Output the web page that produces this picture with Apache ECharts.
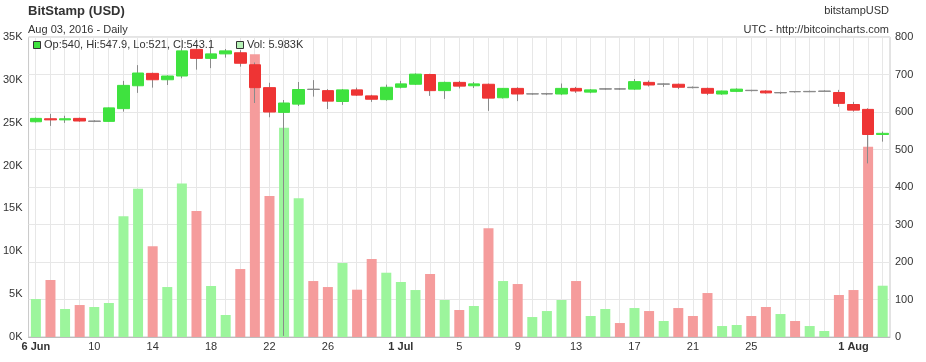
<!DOCTYPE html>
<html>
<head>
<meta charset="utf-8">
<script src="https://cdn.jsdelivr.net/npm/echarts@6/dist/echarts.min.js"></script>
<style>
html,body{margin:0;padding:0;background:#fff;}
#chart{width:926px;height:362px;}
</style>
</head>
<body>
<div id="chart"></div>
<script>
// ---- data ----
const dates = [
'2016-06-06','2016-06-07','2016-06-08','2016-06-09','2016-06-10','2016-06-11','2016-06-12','2016-06-13','2016-06-14','2016-06-15',
'2016-06-16','2016-06-17','2016-06-18','2016-06-19','2016-06-20','2016-06-21','2016-06-22','2016-06-23','2016-06-24','2016-06-25',
'2016-06-26','2016-06-27','2016-06-28','2016-06-29','2016-06-30','2016-07-01','2016-07-02','2016-07-03','2016-07-04','2016-07-05',
'2016-07-06','2016-07-07','2016-07-08','2016-07-09','2016-07-10','2016-07-11','2016-07-12','2016-07-13','2016-07-14','2016-07-15',
'2016-07-16','2016-07-17','2016-07-18','2016-07-19','2016-07-20','2016-07-21','2016-07-22','2016-07-23','2016-07-24','2016-07-25',
'2016-07-26','2016-07-27','2016-07-28','2016-07-29','2016-07-30','2016-07-31','2016-08-01','2016-08-02','2016-08-03'
];
const opens = [
574,582,579,583,575,575,609,670,703,686,
696,767,743,755,758,726,665,599,621,661,
657,628,659,643,633,666,674,700,657,679,
670,674,638,663,648,648,648,663,653,661,
662,661,679,674,674,666,663,648,655,658,
656,651,654.5,654,655,652,620,607,540
];
const highs = [
585,595,590,585,578,612,683,725,705,698,
770,778,774,768,765,732,678,632,680,685,
661,661,665,646,673,683,703,702,681,683,
680,676,664,666,650,651,676,667,661,664,
664,688,684,677,676,668,665,657,663,659,
658,654,656,657,658,659,627,610,547.9
];
const lows = [
572,563,571,574,573,574,601,651,665,672,
690,713,717,745,721,624,586,3,616,641,
608,619,643,627,630,663,672,643,635,663,
664,603,636,629,646,645,645,651,650,659,
659,659,668,667,661,663,645,646,653,655,
649,648,652,653,654,614,601,463,521
];
const closes = [
583,579,582,576,576,611,671,704,686,696,
763,743,755,763,730,665,600,624,660,660,
629,659,645,634,666,675,701,657,679,669,
675,637,663,648,648.5,649,663,656,659,662,
661,681,672,675,666,665,650,656,661,657,
651,652,654,655,656,623,605,540,543.1
];
const volumesK = [
4.43,6.65,3.27,3.73,3.5,3.97,14.1,17.3,10.6,5.83,
17.9,14.7,5.95,2.57,7.93,33.0,16.45,24.4,16.2,6.53,
5.83,8.63,5.52,9.1,7.5,6.42,5.48,7.35,4.32,3.15,
3.62,12.7,6.53,6.18,2.33,3.03,4.32,6.53,2.45,3.27,
1.63,3.38,3.03,1.87,3.38,2.45,5.13,1.28,1.4,2.45,
3.5,2.68,1.87,1.28,0.7,4.9,5.48,22.2,5.983
];
const tickDates = ['2016-06-06','2016-06-10','2016-06-14','2016-06-18','2016-06-22','2016-06-26',
'2016-07-01','2016-07-05','2016-07-09','2016-07-13','2016-07-17','2016-07-21','2016-07-25','2016-08-01'];
const monthNames = ['Jan','Feb','Mar','Apr','May','Jun','Jul','Aug','Sep','Oct','Nov','Dec'];
const volTicksK = [0,5,10,15,20,25,30,35];
const priceTicks = [0,100,200,300,400,500,600,700,800];

// ---- styles ----
const GREEN = '#3fe23f', RED = '#ee3434', GRAY = '#8a8a8a';
const VGREEN = '#9cf59c', VRED = '#f59c9c';
const FONT = 'Liberation Sans, Arial, sans-serif';
const L = 28, R = 36, T = 37, B = 25;
const W = 926 - L - R;
const half = W / dates.length / 2;

const n = dates.length;
const volData = volumesK.map((v, i) => ({
  value: v * 1000,
  itemStyle: { color: closes[i] >= opens[i] ? VGREEN : VRED }
}));
const wickData = dates.map((d, i) => [opens[i], closes[i], lows[i], highs[i]]);
const bodyData = dates.map((d, i) => {
  const o = opens[i], c = closes[i];
  const item = { value: [o, c, Math.min(o, c), Math.max(o, c)] };
  if (Math.abs(c - o) < 1.6) {
    item.itemStyle = { color: GRAY, color0: GRAY, borderColor: GRAY, borderColor0: GRAY, borderColorDoji: GRAY };
  }
  return item;
});

const last = n - 1;
const legendText = 'Op:' + opens[last] + ', Hi:' + highs[last] + ', Lo:' + lows[last] + ', Cl:' + closes[last];
const volText = 'Vol: ' + volumesK[last] + 'K';

const chart = echarts.init(document.getElementById('chart'), null, { renderer: 'canvas' });
chart.setOption({
  animation: false,
  backgroundColor: '#fff',
  textStyle: { fontFamily: FONT },
  grid: [
    { left: L, right: R, top: T, bottom: B, show: true, borderColor: '#c8c8c8', borderWidth: 1, backgroundColor: 'transparent' },
    { left: L + half, right: R + half, top: T, bottom: B, show: false }
  ],
  xAxis: [
    {
      type: 'category', gridIndex: 0, data: dates, boundaryGap: true,
      axisLine: { show: true, lineStyle: { color: '#bdbdbd' } },
      axisTick: { show: false },
      splitLine: { show: false },
      axisLabel: {
        interval: (idx, val) => tickDates.indexOf(val) >= 0,
        margin: 4, color: '#333', fontSize: 11, fontFamily: FONT,
        formatter: (val, idx) => {
          const parts = val.split('-');
          const day = parseInt(parts[2], 10);
          const m = monthNames[parseInt(parts[1], 10) - 1];
          if (idx === 0 || day === 1) return '{b|' + day + ' ' + m + '}';
          return String(day);
        },
        rich: { b: { fontWeight: 'bold', fontSize: 11, color: '#333', fontFamily: FONT } }
      }
    },
    {
      type: 'value', gridIndex: 1, min: 0, max: n - 1, interval: 1,
      axisLine: { show: false }, axisTick: { show: false }, axisLabel: { show: false },
      splitLine: { show: true, lineStyle: { color: '#e7e7e7', width: 1 } }
    }
  ],
  yAxis: [
    {
      type: 'value', gridIndex: 0, position: 'left', min: 0, max: 35000, interval: 5000,
      axisLine: { show: false }, axisTick: { show: false },
      splitLine: { show: false },
      axisLabel: { margin: 6, color: '#333', fontSize: 11, fontFamily: FONT,
        formatter: v => (volTicksK.indexOf(v / 1000) >= 0 ? (v / 1000) + 'K' : '') }
    },
    {
      type: 'value', gridIndex: 0, position: 'right', min: 0, max: 800, interval: 100,
      axisLine: { show: false }, axisTick: { show: false },
      splitLine: { show: true, lineStyle: { color: '#e7e7e7', width: 1 } },
      axisLabel: { margin: 5, color: '#333', fontSize: 11, fontFamily: FONT,
        formatter: v => (priceTicks.indexOf(v) >= 0 ? String(v) : '') }
    },
    { type: 'value', gridIndex: 1, min: 0, max: 1, show: false }
  ],
  series: [
    {
      type: 'bar', name: 'Vol', xAxisIndex: 0, yAxisIndex: 0, data: volData, barWidth: 10, z: 2
    },
    {
      type: 'candlestick', name: 'wick', xAxisIndex: 0, yAxisIndex: 1, data: wickData, barWidth: 1, z: 3,
      itemStyle: { color: GRAY, color0: GRAY, borderColor: GRAY, borderColor0: GRAY, borderColorDoji: GRAY, borderWidth: 1 }
    },
    {
      type: 'candlestick', name: 'body', xAxisIndex: 0, yAxisIndex: 1, data: bodyData, barWidth: 12, z: 4,
      itemStyle: { color: GREEN, color0: RED, borderColor: GREEN, borderColor0: RED, borderColorDoji: GRAY, borderWidth: 1 }
    }
  ],
  graphic: [
    { type: 'text', left: 28, top: 5, style: { text: 'BitStamp (USD)', font: 'bold 13px ' + FONT, fill: '#333' } },
    { type: 'text', left: 28, top: 24, style: { text: 'Aug 03, 2016 - Daily', font: '11px ' + FONT, fill: '#333' } },
    { type: 'text', right: 37, top: 5, style: { text: 'bitstampUSD', font: '11px ' + FONT, fill: '#333' } },
    { type: 'text', right: 37, top: 24, style: { text: 'UTC - http://bitcoincharts.com', font: '11px ' + FONT, fill: '#333' } },
    { type: 'rect', shape: { x: 33.5, y: 41.5, width: 7, height: 7 }, style: { fill: GREEN, stroke: '#333', lineWidth: 1 }, z: 10 },
    { type: 'text', left: 44, top: 39, style: { text: legendText, font: '11px ' + FONT, fill: '#333' }, z: 10 },
    { type: 'rect', shape: { x: 236.5, y: 41.5, width: 7, height: 7 }, style: { fill: '#b6f2b6', stroke: '#333', lineWidth: 1 }, z: 10 },
    { type: 'text', left: 247, top: 39, style: { text: volText, font: '11px ' + FONT, fill: '#333' }, z: 10 }
  ]
});
</script>
</body>
</html>
